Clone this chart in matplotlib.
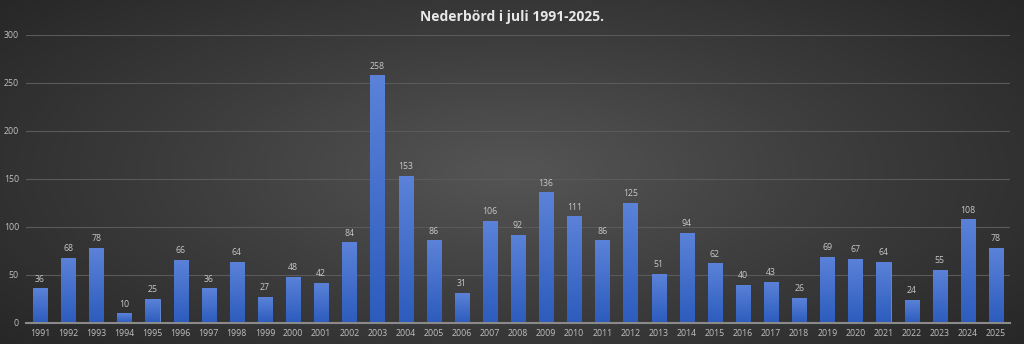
import numpy as np
import matplotlib
matplotlib.use("Agg")
import matplotlib.pyplot as plt
from matplotlib.colors import LinearSegmentedColormap

years = list(range(1991, 2026))
rain = [36, 68, 78, 10, 25, 66, 36, 64, 27, 48,
        42, 84, 258, 153, 86, 31, 106, 92, 136, 111,
        86, 125, 51, 94, 62, 40, 43, 26, 69, 67,
        64, 24, 55, 108, 78]
yticks = [0, 50, 100, 150, 200, 250, 300]

plt.rcParams['font.family'] = ['Open Sans', 'DejaVu Sans']

fig = plt.figure(figsize=(10.24, 3.44), dpi=100)

# dark background, lighter towards the middle
bg = fig.add_axes([0, 0, 1, 1], zorder=-10)
yy, xx = np.mgrid[-1:1:200j, -1:1:600j]
r = np.sqrt((xx * 0.9) ** 2 + (yy * 0.75) ** 2)
bgcm = LinearSegmentedColormap.from_list("bg", ["#555555", "#3c3c3c", "#262626"])
bg.imshow(r, cmap=bgcm, vmin=0, vmax=1.2, aspect="auto", extent=[0, 1, 0, 1])
bg.set_axis_off()

ax = fig.add_axes([26 / 1024, 21 / 344, 984 / 1024, 288 / 344])
ax.patch.set_alpha(0)

x = np.arange(len(years))
bars = ax.bar(x, rain, width=0.5, color="#4a74d0", edgecolor="#6a8ee0",
              linewidth=0.6, zorder=3)

barcm = LinearSegmentedColormap.from_list("bar", ["#2d5cbd", "#5b82d8"])
grad = np.linspace(0, 1, 100).reshape(-1, 1)
for b in bars:
    bx, by = b.get_x(), b.get_y()
    im = ax.imshow(grad, cmap=barcm, origin="lower", aspect="auto",
                   extent=[bx, bx + b.get_width(), by, by + b.get_height()],
                   zorder=3.5)
    im.set_clip_path(b)

for xi, v in zip(x, rain):
    ax.text(xi, v + 5, str(v), ha="center", va="bottom", fontsize=6.3,
            color="#c8c8c8", zorder=5)

ax.set_xlim(-0.5, len(years) - 0.5)
ax.set_ylim(0, 300)
ax.set_yticks(yticks)
ax.set_xticks(x)
ax.set_xticklabels([str(y) for y in years])
ax.tick_params(axis="both", length=0, labelsize=6.3, colors="#c0c0c0")
ax.tick_params(axis="y", pad=5)
ax.tick_params(axis="x", pad=4)

ax.grid(axis="y", color="#5a5a5a", linewidth=0.8, zorder=0)
ax.set_axisbelow(True)
for s in ["top", "right", "left"]:
    ax.spines[s].set_visible(False)
ax.spines["bottom"].set_color("#8a8a8a")
ax.spines["bottom"].set_linewidth(1.5)
ax.spines["bottom"].set_zorder(4)

fig.text(0.5, 1 - 17 / 344, "Nederbörd i juli 1991-2025.", ha="center",
         va="center", fontsize=10, fontweight="bold", color="#e8e8e8")

fig.savefig("out.png", dpi=100)
